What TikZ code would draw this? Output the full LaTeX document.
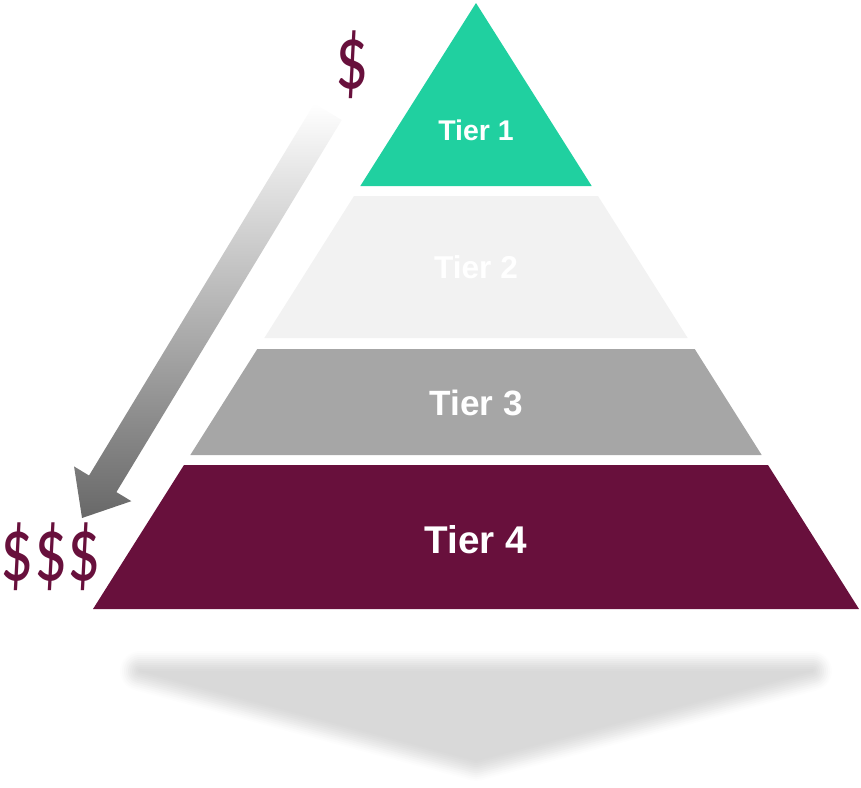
\documentclass[tikz,border=0pt]{standalone}
\usepackage{fontspec}
\setmainfont{Liberation Sans}
\newfontfamily\dollarfont{Carlito}
\usepackage{graphicx}
\usepackage{tikz}
\definecolor{tiergreen}{RGB}{32,208,160}
\definecolor{tierlight}{RGB}{242,242,242}
\definecolor{tiergray}{RGB}{166,166,166}
\definecolor{tiermaroon}{RGB}{104,16,60}
\definecolor{arrowgray}{RGB}{104,104,104}
\definecolor{shadowgray}{RGB}{217,217,217}

\begin{document}
\begin{tikzpicture}[
    tierlabel/.style={text=white, font=\bfseries\fontsize{#1}{#1}\selectfont},
    dollar/.style={text=tiermaroon, font=\dollarfont\fontsize{26}{28}\selectfont}
  ]
        \useasboundingbox (0,0) rectangle (8.61,7.87);

        % Blurred shadow under the pyramid
        \foreach \w/\c in {0.40/6, 0.36/14, 0.32/24, 0.28/35, 0.24/46, 0.20/57, 0.16/68, 0.12/78, 0.08/87, 0.04/94}{
            \draw[shadowgray!\c!white, line width=\w cm, line join=round, fill=shadowgray!\c!white]
                (1.40,1.16) -- (8.12,1.16) -- (4.76,0.26) -- cycle;
        }
        \fill[shadowgray] (1.40,1.16) -- (8.12,1.16) -- (4.76,0.26) -- cycle;

        % Tier 1 (top triangle)
        \fill[tiergreen] (4.76,7.84) -- (5.917,6.01) -- (3.603,6.01) -- cycle;
        \node[tierlabel=8.1] (tier1) at (4.76,6.57) {Tier 1};

        % Tier 2
        \fill[tierlight] (3.54,5.91) -- (5.98,5.91) -- (6.877,4.49) -- (2.643,4.49) -- cycle;
        \node[tierlabel=9] (tier2) at (4.76,5.20) {Tier 2};

        % Tier 3
        \fill[tiergray] (2.573,4.38) -- (6.947,4.38) -- (7.617,3.32) -- (1.903,3.32) -- cycle;
        \node[tierlabel=10] (tier3) at (4.76,3.84) {Tier 3};

        % Tier 4 (base)
        \fill[tiermaroon] (1.84,3.22) -- (7.68,3.22) -- (8.59,1.78) -- (0.93,1.78) -- cycle;
        \node[tierlabel=11] (tier4) at (4.76,2.47) {Tier 4};

        % Cost arrow, fading out towards the top
        \begin{scope}[shift={(0.82,2.69)}, rotate=-31.2]
            \shade[top color=white, middle color=arrowgray!85!white, bottom color=arrowgray]
                (0,0) -- (0.335,0.40) -- (0.16,0.40) -- (0.16,4.75)
                -- (-0.16,4.75) -- (-0.16,0.40) -- (-0.335,0.40) -- cycle;
        \end{scope}

        % Cost labels
        \node[dollar] (cheap) at (3.52,7.22) {\scalebox{0.72}[1]{\$}};
        \node[dollar] (costly) at (0.51,2.30) {\scalebox{0.72}[1]{\$\$\$}};
\end{tikzpicture}
\end{document}
